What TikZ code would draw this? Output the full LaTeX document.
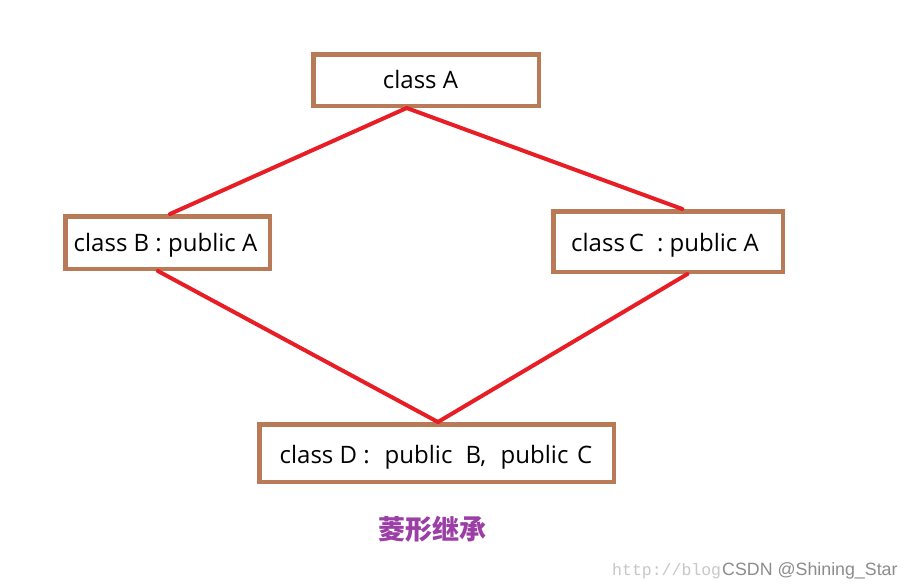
\documentclass[tikz,border=0pt]{standalone}
\usepackage{fontspec}
\setmainfont{Open Sans}
\newfontfamily\cjk{Noto Sans CJK SC}
\newfontfamily\wmmono{Liberation Mono}
\newfontfamily\wmsans{Liberation Sans}
\usetikzlibrary{calc}
\definecolor{boxbrown}{RGB}{185,122,87}
\definecolor{linered}{RGB}{232,30,38}
\definecolor{titlepurple}{RGB}{155,62,165}
\tikzset{
  classbox/.style={draw=boxbrown, line width=4.5pt, fill=white, inner sep=0pt},
  classtext/.style={font=\fontsize{24}{26}\selectfont, text=black, inner sep=0pt, anchor=base},
  wordtext/.style={classtext, anchor=base west},
  link/.style={draw=linered, line width=4pt, line cap=round},
}
\begin{document}
\begin{tikzpicture}[x=1pt,y=-1pt]
\useasboundingbox[fill=white] (0,0) rectangle (923,587);
% boxes
\node[classbox, minimum width=225.5pt, minimum height=51.5pt] (A) at (426,80) {};
\node[classbox, minimum width=204.5pt, minimum height=52.5pt] (B) at (167.5,242.5) {};
\node[classbox, minimum width=229.5pt, minimum height=60.5pt] (C) at (668,241.5) {};
\node[classbox, minimum width=354.5pt, minimum height=57.5pt] (D) at (436.5,453) {};
% texts
\node[classtext] (tA) at (420.5,88) {class A};
\node[classtext] (tB) at (165.5,251) {class B : public A};
\node[classtext] (tC) at (665,251) {class\,C\; : public A};
\node[wordtext] (tD1) at (279.5,463) {class D :};
\node[wordtext] (tD2) at (384.5,463) {public};
\node[wordtext] (tD3) at (465.5,463) {B,};
\node[wordtext] (tD4) at (500.5,463) {public};
\node[wordtext] (tD5) at (577,463) {C};
% connectors
\draw[link] ($(A.south west)!0.416!(A.south east)$) -- ($(B.north west)!0.512!(B.north east)$);
\draw[link] ($(A.south west)!0.416!(A.south east)$) -- ($(C.north west)!0.561!(C.north east)$);
\draw[link] ($(B.south west)!0.454!(B.south east)$) -- ($(D.north west)!0.504!(D.north east)$);
\draw[link] ($(C.south west)!0.583!(C.south east)$) -- ($(D.north west)!0.504!(D.north east)$);
% title
\node[font=\cjk\bfseries\fontsize{27}{29}\selectfont, text=titlepurple, inner sep=0pt] (title) at (432,529) {菱形继承};
% watermark
\node[font=\wmmono\fontsize{16.5}{18}\selectfont, text=black!22, inner sep=0pt, anchor=base west] (wm1) at (612,575) {http://blog};
\node[font=\wmsans\fontsize{17.8}{19}\selectfont, text=black!45, inner sep=0pt, anchor=base west] (wm2) at (722,575) {CSDN @Shining\_Star};
\end{tikzpicture}
\end{document}
